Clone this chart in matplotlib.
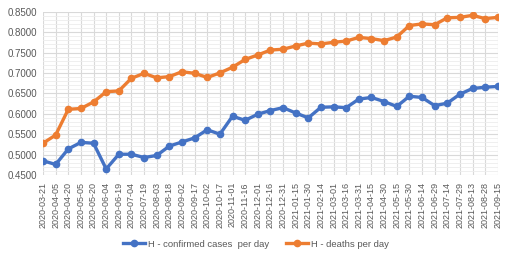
import numpy as np
import matplotlib
matplotlib.use('Agg')
import matplotlib.pyplot as plt
from matplotlib.ticker import MultipleLocator, FormatStrFormatter

plt.rcParams['font.family'] = ['Liberation Sans', 'DejaVu Sans']

dates = ['2020-03-21', '2020-04-05', '2020-04-20', '2020-05-05', '2020-05-20',
         '2020-06-04', '2020-06-19', '2020-07-04', '2020-07-19', '2020-08-03',
         '2020-08-18', '2020-09-02', '2020-09-17', '2020-10-02', '2020-10-17',
         '2020-11-01', '2020-11-16', '2020-12-01', '2020-12-16', '2020-12-31',
         '2021-01-15', '2021-01-30', '2021-02-14', '2021-03-01', '2021-03-16',
         '2021-03-31', '2021-04-15', '2021-04-30', '2021-05-15', '2021-05-30',
         '2021-06-14', '2021-06-29', '2021-07-14', '2021-07-29', '2021-08-13',
         '2021-08-28', '2021-09-15']

confirmed = [0.485, 0.476, 0.514, 0.530, 0.528, 0.465, 0.501, 0.501, 0.493, 0.498,
             0.521, 0.531, 0.541, 0.561, 0.550, 0.594, 0.584, 0.599, 0.608, 0.615,
             0.602, 0.590, 0.616, 0.617, 0.615, 0.636, 0.640, 0.630, 0.618, 0.643,
             0.640, 0.620, 0.626, 0.648, 0.662, 0.665, 0.667]

deaths = [0.528, 0.548, 0.611, 0.613, 0.629, 0.654, 0.656, 0.687, 0.699, 0.688,
          0.691, 0.703, 0.699, 0.689, 0.700, 0.714, 0.733, 0.744, 0.756, 0.758,
          0.766, 0.773, 0.771, 0.775, 0.778, 0.787, 0.784, 0.779, 0.788, 0.816,
          0.820, 0.818, 0.835, 0.836, 0.841, 0.833, 0.836]

fig = plt.figure(figsize=(5.09, 2.59), dpi=100)
ax = fig.add_axes([0.0845, 0.324, 0.8935, 0.631])

x = np.arange(len(dates))
ax.plot(x, confirmed, color='#4472C4', lw=2.4, marker='o', ms=4.5,
        label='H - confirmed cases  per day')
ax.plot(x, deaths, color='#ED7D31', lw=2.4, marker='o', ms=4.5,
        label='H - deaths per day')

ax.set_xlim(0, len(dates) - 1)
ax.set_ylim(0.45, 0.85)
ax.set_xticks(x)
ax.set_xticklabels(dates, rotation=90, fontsize=6.5, color='#595959')
ax.yaxis.set_major_locator(MultipleLocator(0.05))
ax.yaxis.set_minor_locator(MultipleLocator(0.01))
ax.yaxis.set_major_formatter(FormatStrFormatter('%.4f'))
ax.tick_params(axis='y', labelsize=7, colors='#595959', length=0, pad=4)
ax.tick_params(axis='y', which='minor', length=0)
ax.tick_params(axis='x', length=0, pad=5)

ax.grid(True, which='major', color='#D9D9D9', lw=0.8)
ax.grid(True, which='minor', axis='y', color='#EDEDED', lw=0.6)
ax.set_axisbelow(True)
for s in ax.spines.values():
    s.set_visible(False)

fig.legend(loc='center', bbox_to_anchor=(0.503, 0.057), ncol=2, frameon=False,
           fontsize=6.8, labelcolor='#595959', handlelength=2.3,
           handletextpad=0.3, columnspacing=1.8)

fig.savefig('out.png', dpi=100)
